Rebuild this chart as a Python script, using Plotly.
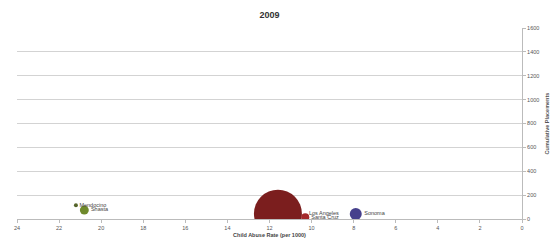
import plotly.graph_objects as go

counties = ["Los Angeles", "Santa Cruz", "Sonoma", "Shasta", "Mendocino"]
abuse_rate = [11.6, 10.3, 7.9, 20.8, 21.2]
placements = [45, 15, 42, 75, 115]
bubble_size = [1440, 40, 90, 50, 10]
colors = ["#7b1e1e", "#a3282a", "#46408c", "#6f8a2c", "#55642a"]

x_ticks = list(range(0, 25, 2))
y_ticks = list(range(0, 1601, 200))

fig = go.Figure()
for i, name in enumerate(counties):
    fig.add_trace(go.Scatter(
        x=[abuse_rate[i]], y=[placements[i]],
        mode="markers+text",
        text=[name], textposition="middle right",
        textfont=dict(size=5.5, color="#444", family="Liberation Sans"),
        marker=dict(size=[bubble_size[i]], sizemode="area", sizeref=1.25,
                    color=colors[i], opacity=1, line=dict(width=0)),
        showlegend=False, cliponaxis=True,
    ))

fig.update_layout(
    width=550, height=246,
    margin=dict(l=17, r=28, t=28, b=27, autoexpand=False),
    paper_bgcolor="white", plot_bgcolor="white",
    title=dict(text="<b>2009</b>", x=0.5, xanchor="center", xref="paper",
               y=0.94, yref="container", yanchor="middle",
               font=dict(size=9, color="#333", family="Liberation Sans")),
    font=dict(family="Liberation Sans", size=6, color="#555"),
)
fig.update_xaxes(
    range=[24, 0], tickvals=x_ticks, showgrid=False, zeroline=False, automargin=False,
    showline=True, linecolor="#bbb", linewidth=1,
    ticks="outside", ticklen=3, tickcolor="#bbb",
    tickfont=dict(size=5.5, color="#555"),
    title=dict(text="<b>Child Abuse Rate (per 1000)</b>", font=dict(size=5.5, color="#444"), standoff=3),
)
fig.update_yaxes(
    range=[0, 1600], tickvals=y_ticks, side="right", automargin=False,
    showgrid=True, gridcolor="#d3d3d3", gridwidth=1, zeroline=False,
    showline=True, linecolor="#bbb", linewidth=1,
    ticks="outside", ticklen=3, tickcolor="#bbb",
    tickfont=dict(size=5.5, color="#555"),
    title=dict(text="<b>Cumulative Placements</b>", font=dict(size=5.5, color="#555"), standoff=6),
)

fig.write_html("out.html", config={"displayModeBar": False},
               post_script="document.body.style.margin='0';document.body.style.overflow='hidden';")
